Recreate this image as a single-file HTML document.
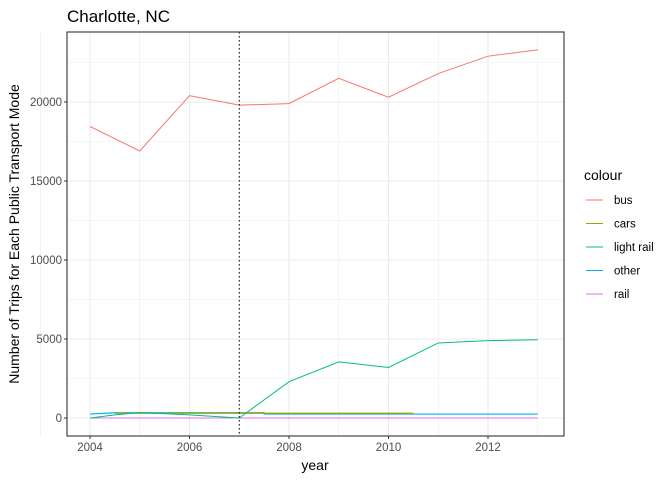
<!DOCTYPE html>
<html><head><meta charset="utf-8"><style>body{margin:0;background:#fff}svg text{font-family:"Liberation Sans",Arial,sans-serif}</style></head><body>
<svg id="c" width="672" height="480" xmlns="http://www.w3.org/2000/svg"></svg>
<script>
const years=[2004,2005,2006,2007,2008,2009,2010,2011,2012,2013];
const bus=[18450,16900,20400,19800,19900,21500,20300,21800,22900,23300];
const lightRailYears=[2004,2004.5,2005,2006,2007,2008,2009,2010,2011,2012,2013];
const lightRail=[0,200,350,200,0,2300,3550,3200,4750,4900,4950];
const carsYears=[2004.5,2010.5];
const cars=[300,300];
const otherYears=[2004,2004.5,2007.5,2007.5,2013];
const other=[250,330,330,250,250];
const railYears=[2004,2013];
const rail=[0,0];
const yTicks=[0,5000,10000,15000,20000];
const xTicks=[2004,2006,2008,2010,2012];
const legendLabels=['bus','cars','light rail','other','rail'];
const colors=['#F8766D','#A3A500','#00BF7D','#00B0F6','#E76BF3'];
const NS='http://www.w3.org/2000/svg';
const svg=document.getElementById('c');
const L=67,R=564,T=32,B=436;
const x=v=>90+(v-2004)*49.75;
const y=v=>418-v*0.0158;
function mk(t,a,p){const e=document.createElementNS(NS,t);for(const k in a)e.setAttribute(k,a[k]);(p||svg).appendChild(e);return e;}
for(let v=2003;v<=2013;v++){const g=mk('line',{x1:x(v),x2:x(v),y1:T,y2:B,stroke:'#ebebeb','stroke-width':v%2?0.6:1.1});

}
for(let v=0;v<=22500;v+=2500){const g=mk('line',{x1:L,x2:R,y1:y(v),y2:y(v),stroke:'#ebebeb','stroke-width':v%5000?0.6:1.1});

}
function series(xs,ys,col,name,w){const p=mk('polyline',{points:xs.map((v,i)=>x(v)+','+y(ys[i])).join(' '),fill:'none',stroke:col,'stroke-width':w||1});

}
series(railYears,rail,colors[4],'rail-line');
series(otherYears,other,colors[3],'other-line',1.2);
series(carsYears,cars,colors[1],'cars-line',1.3);
series(lightRailYears,lightRail,colors[2],'light-rail-line');
series(years,bus,colors[0],'bus-line');
const vl=mk('line',{x1:x(2007),x2:x(2007),y1:T,y2:B,stroke:'#000','stroke-dasharray':'1.5,2.5'});


const fr=mk('rect',{x:L,y:T,width:R-L,height:B-T,fill:'none',stroke:'#333','stroke-width':1.1});


yTicks.forEach(v=>{mk('line',{x1:L-3,x2:L,y1:y(v),y2:y(v),stroke:'#333'});
const t=mk('text',{x:L-5,y:y(v)+4,'text-anchor':'end','font-size':11.5,fill:'#4d4d4d'});t.textContent=v;

});
xTicks.forEach(v=>{mk('line',{x1:x(v),x2:x(v),y1:B,y2:B+3,stroke:'#333'});
const t=mk('text',{x:x(v),y:B+15,'text-anchor':'middle','font-size':11.5,fill:'#4d4d4d'});t.textContent=v;

});
let t=mk('text',{x:315,y:470,'text-anchor':'middle','font-size':14});t.textContent='year';


t=mk('text',{x:19,y:234,'text-anchor':'middle','font-size':14,transform:'rotate(-90 19 234)'});t.textContent='Number of Trips for Each Public Transport Mode';


t=mk('text',{x:67,y:22,'font-size':17});t.textContent='Charlotte, NC';


t=mk('text',{x:584,y:180,'font-size':14});t.textContent='colour';


legendLabels.forEach((lab,i)=>{const yy=200+i*23.5;
const l=mk('line',{x1:586,x2:603,y1:yy,y2:yy,stroke:colors[i]});


const tx=mk('text',{x:614,y:yy+4,'font-size':11.5});tx.textContent=lab;

});
</script>
</body></html>
